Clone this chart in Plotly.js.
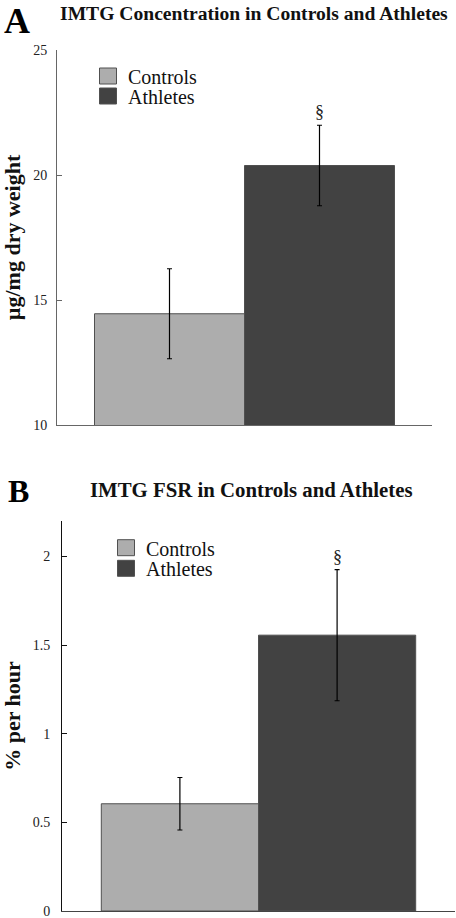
<!DOCTYPE html>
<html>
<head>
<meta charset="utf-8">
<script src="https://cdn.plot.ly/plotly-3.0.1.min.js"></script>
<style>
html,body{margin:0;padding:0;background:#fff;}
#chart{width:456px;height:918px;}
</style>
</head>
<body>
<div id="chart"></div>
<script>
// ---- data ----
const categories = ['Controls', 'Athletes'];
const concValues = [14.45, 20.38];      // IMTG concentration, µg/mg dry weight
const concErrors = [1.80, 1.61];
const fsrValues = [0.605, 1.556];       // IMTG FSR, % per hour
const fsrErrors = [0.148, 0.37];
const significant = ['', '§'];
const panelLabels = ['A', 'B'];
const panelTitles = ['IMTG Concentration in Controls and Athletes', 'IMTG FSR in Controls and Athletes'];
const yTitles = ['µg/mg dry weight', '% per hour'];
const concTicks = [10, 15, 20, 25];
const fsrTicks = [0, 0.5, 1, 1.5, 2];

const colors = ['#adadad', '#424242'];
const serif = 'Liberation Serif';

const traces = [];
const legendNames = [['legend', 'legend2'], ['legend3', 'legend4']];
[[concValues, concErrors, 'x', 'y'], [fsrValues, fsrErrors, 'x2', 'y2']].forEach((p, pi) => {
  categories.forEach((c, i) => {
    traces.push({
      type: 'bar', name: c, x: [i], y: [p[0][i]],
      width: [1], xaxis: p[2], yaxis: p[3],
      legend: legendNames[pi][i],
      marker: {color: colors[i], line: {color: '#505050', width: 1}},
      error_y: {type: 'data', array: [p[1][i]], visible: true, color: '#000', thickness: 1.2, width: 2.5},
      hoverinfo: 'skip'
    });
  });
});

const annotations = [];
[[concValues, concErrors, 'x', 'y'], [fsrValues, fsrErrors, 'x2', 'y2']].forEach((p, pi) => {
  categories.forEach((c, i) => {
    if (significant[i]) {
      annotations.push({
        xref: p[2], yref: p[3], x: i, y: p[0][i] + p[1][i],
        text: significant[i], showarrow: false, yanchor: 'bottom', yshift: 1,
        font: {family: serif, size: 18, color: '#222'}
      });
    }
  });
});
// panel letters and titles
annotations.push({xref: 'paper', yref: 'paper', x: 3 / 456, y: 1, xanchor: 'left', yanchor: 'top', borderpad: 0,
  text: '<b>' + panelLabels[0] + '</b>', showarrow: false, font: {family: serif, size: 36, color: '#000'}});
annotations.push({xref: 'paper', yref: 'paper', x: 58 / 456, y: 1 - 14 / 918, xanchor: 'left', yanchor: 'middle',
  text: '<b>' + panelTitles[0] + '</b>', showarrow: false, font: {family: serif, size: 19.6, color: '#111'}});
annotations.push({xref: 'paper', yref: 'paper', x: 6 / 456, y: 1 - 491 / 918, xanchor: 'left', yanchor: 'middle',
  text: '<b>' + panelLabels[1] + '</b>', showarrow: false, font: {family: serif, size: 32, color: '#000'}});
annotations.push({xref: 'paper', yref: 'paper', x: 88 / 456, y: 1 - 490 / 918, xanchor: 'left', yanchor: 'middle',
  text: '<b>' + panelTitles[1] + '</b>', showarrow: false, font: {family: serif, size: 20.8, color: '#111'}});

function legendAt(px, py) {
  return {x: px / 456, y: 1 - py / 918, xanchor: 'left', yanchor: 'middle', bgcolor: 'rgba(0,0,0,0)',
    borderwidth: 0, font: {family: serif, size: 20, color: '#111'}};
}

const baseX = {showgrid: false, zeroline: false, showline: true, ticks: 'inside', ticklen: 5,
  range: [-0.75, 1.75], tickvals: [1.75], ticktext: [''], fixedrange: true};
const baseY = {showgrid: false, zeroline: false, showline: true, ticks: 'inside', ticklen: 5, fixedrange: true,
  ticklabeloverflow: 'allow', tickfont: {family: serif, size: 14, color: '#222'}};

const layout = {
  width: 456, height: 918,
  margin: {l: 0, r: 0, t: 0, b: 0},
  paper_bgcolor: '#fff', plot_bgcolor: '#fff',
  font: {family: serif, color: '#111'},
  showlegend: true,
  bargap: 0,
  xaxis: Object.assign({}, baseX, {domain: [57 / 456, 432 / 456], anchor: 'y', linecolor: '#666', tickcolor: '#666'}),
  yaxis: Object.assign({}, baseY, {domain: [1 - 425 / 918, 1 - 50 / 918], anchor: 'x', range: [10, 25],
    tickvals: concTicks, linecolor: '#666', tickcolor: '#666', ticklabelstandoff: 6,
    title: {text: '<b>' + yTitles[0] + '</b>', font: {family: serif, size: 22, color: '#111'}, standoff: 10}}),
  xaxis2: Object.assign({}, baseX, {domain: [62 / 456, 455 / 456], anchor: 'y2', linecolor: '#444', tickcolor: '#444'}),
  yaxis2: Object.assign({}, baseY, {domain: [1 - 911 / 918, 1 - 521 / 918], anchor: 'x2', range: [0, 2.2],
    tickvals: fsrTicks, linecolor: '#111', tickcolor: '#111', ticklabelstandoff: 8,
    title: {text: '<b>' + yTitles[1] + '</b>', font: {family: serif, size: 22, color: '#111'}, standoff: 10}}),
  legend: legendAt(88, 76),
  legend2: legendAt(88, 96),
  legend3: legendAt(106, 547.7),
  legend4: legendAt(106, 568.3),
  annotations: annotations
};

Plotly.newPlot('chart', traces, layout, {staticPlot: true, displayModeBar: false}).then(gd => {
  // enlarge legend swatches to match the reference's larger squares
  gd.querySelectorAll('.legendpoints path').forEach(p => p.setAttribute('d', 'M8.5,8H-8.5V-8H8.5Z'));
  gd.querySelectorAll('text.legendtext').forEach(t => {
    t.style.setProperty('font-family', "'Liberation Serif', serif", 'important');
    t.setAttribute('font-family', 'Liberation Serif');
  });
});
</script>
</body>
</html>
